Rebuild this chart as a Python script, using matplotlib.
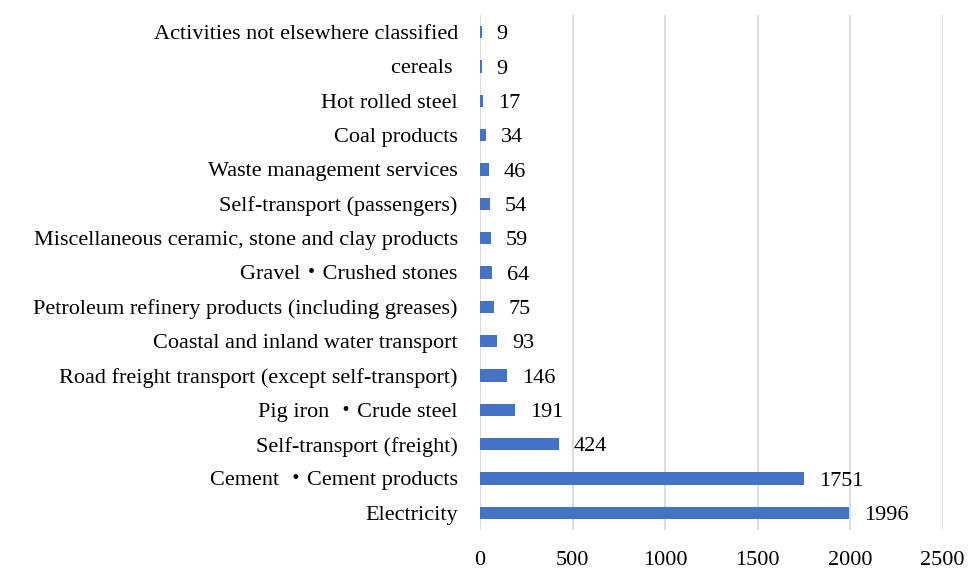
import matplotlib.pyplot as plt

plt.rcParams['font.family'] = ['Liberation Serif', 'Noto Sans CJK JP', 'DejaVu Sans']

# categories from bottom to top
sectors = ['Electricity', 'Cement \u30fbCement products', 'Self-transport (freight)',
           'Pig iron \u30fbCrude steel', 'Road freight transport (except self-transport)',
           'Coastal and inland water transport',
           'Petroleum refinery products (including greases)', 'Gravel\u30fbCrushed stones',
           'Miscellaneous ceramic, stone and clay products', 'Self-transport (passengers)',
           'Waste management services', 'Coal products', 'Hot rolled steel', 'cereals ',
           'Activities not elsewhere classified']
values = [1996, 1751, 424, 191, 146, 93, 75, 64, 59, 54, 46, 34, 17, 9, 9]
xticks = [0, 500, 1000, 1500, 2000, 2500]

fig = plt.figure(figsize=(9.69, 5.70), dpi=100)
ax = fig.add_axes([0.4954, 0.0702, 0.4775, 0.9035])

fs = 16
y = list(range(len(sectors)))
ax.barh(y, values, height=0.36, color='#4472C4', zorder=3)
for yi, v in zip(y, values):
    ax.text(v + 80, yi - 0.08, str(v), va='center', ha='left', fontsize=fs, color='black')

ax.set_xlim(0, 2500)
ax.set_ylim(-0.5, len(sectors) - 0.5)
ax.set_xticks(xticks)
ax.set_yticks(y)
ax.set_yticklabels(sectors, fontsize=fs)
ax.tick_params(axis='x', labelsize=fs, length=0, pad=15)
ax.tick_params(axis='y', length=0, pad=16)
ax.grid(axis='x', color='#D9D9D9', linewidth=1.3, zorder=0)
for s in ax.spines.values():
    s.set_visible(False)

fig.savefig('out.png', dpi=100)
